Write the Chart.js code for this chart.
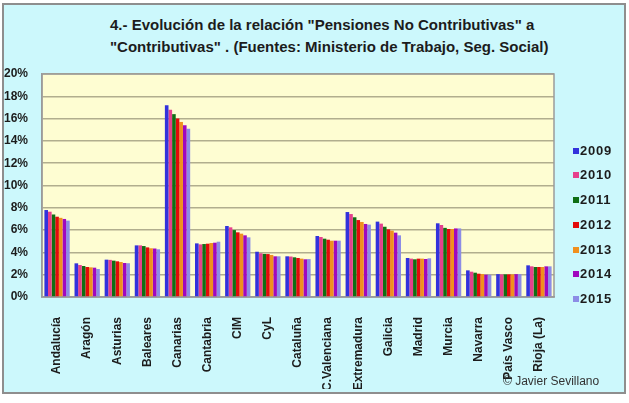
<!DOCTYPE html>
<html>
<head>
<meta charset="utf-8">
<script src="https://cdn.jsdelivr.net/npm/chart.js@4"></script>
<style>
  html, body { margin: 0; padding: 0; background: #ffffff; }
  .panel {
    position: absolute; left: 2px; top: 3px; width: 620px; height: 387px;
    background: #ccf8fc; border: 2px solid #8e8e8e;
  }
  #wrap { position: absolute; left: 0; top: 0; width: 629px; height: 403px; }
  .title {
    position: absolute; left: 110px; width: 400px; top: 14px; text-align: center; white-space: nowrap;
    font: bold 15px "Liberation Sans", Arial, sans-serif; line-height: 22px; color: #1c1c1c;
  }
  .legend { position: absolute; left: 573px; top: 0; font: bold 13px "Liberation Sans", Arial, sans-serif; color: #1c1c1c; }
  .legend div { position: absolute; left: 0; white-space: nowrap; height: 16px; line-height: 16px; letter-spacing: 0.8px; }
  .legend span { display: inline-block; width: 6px; height: 6px; margin-right: 1px; vertical-align: 1px; }
  .copy { position: absolute; left: 503px; top: 374px; font: 12px "Liberation Sans", Arial, sans-serif; color: #333; }
</style>
</head>
<body>
<div class="panel"></div>
<div class="title">4.- Evolución de la relación "Pensiones No Contributivas" a<br>"Contributivas" . (Fuentes: Ministerio de Trabajo, Seg. Social)</div>
<div id="wrap"><canvas id="pensChart" width="629" height="403"></canvas></div>
<div class="legend" id="legend"></div>
<div class="copy">© Javier Sevillano</div>
<script>
  const regions = ['Andalucía', 'Aragón', 'Asturias', 'Baleares', 'Canarias', 'Cantabria', 'CIM', 'CyL',
    'Cataluña', 'C.Valenciana', 'Extremadura', 'Galicia', 'Madrid', 'Murcia', 'Navarra', 'País Vasco', 'Rioja (La)'];
  const years = ['2009', '2010', '2011', '2012', '2013', '2014', '2015'];
  const yearColors = ['#3232dc', '#e6408c', '#0f6e14', '#e20a0a', '#f0901e', '#a008be', '#8c8ce6'];

  // % pensiones no contributivas / contributivas, per year
  const v2009 = [7.80, 3.02, 3.35, 4.63, 17.2, 4.81, 6.37, 4.06, 3.65, 5.47, 7.62, 6.76, 3.50, 6.61, 2.39, 2.05, 2.84];
  const v2010 = [7.65, 2.87, 3.33, 4.63, 16.8, 4.72, 6.25, 3.92, 3.63, 5.38, 7.44, 6.58, 3.44, 6.46, 2.27, 2.03, 2.75];
  const v2011 = [7.40, 2.78, 3.26, 4.57, 16.4, 4.75, 6.00, 3.86, 3.56, 5.23, 7.15, 6.30, 3.38, 6.20, 2.18, 2.03, 2.69];
  const v2012 = [7.20, 2.69, 3.20, 4.45, 16.0, 4.78, 5.80, 3.85, 3.50, 5.14, 6.90, 6.07, 3.44, 6.10, 2.09, 2.03, 2.69];
  const v2013 = [7.10, 2.66, 3.14, 4.37, 15.7, 4.84, 5.68, 3.77, 3.44, 5.05, 6.73, 5.95, 3.44, 6.10, 2.06, 2.03, 2.69];
  const v2014 = [7.00, 2.63, 3.05, 4.35, 15.4, 4.87, 5.53, 3.65, 3.38, 5.05, 6.55, 5.77, 3.41, 6.15, 2.00, 2.05, 2.75];
  const v2015 = [6.85, 2.51, 3.03, 4.28, 15.1, 4.96, 5.35, 3.65, 3.40, 5.05, 6.49, 5.53, 3.47, 6.15, 2.00, 2.05, 2.75];
  const series = [v2009, v2010, v2011, v2012, v2013, v2014, v2015];

  const yTicks = [0, 2, 4, 6, 8, 10, 12, 14, 16, 18, 20];

  const plotBg = {
    id: 'plotBg',
    beforeDraw(chart) {
      const a = chart.chartArea, ctx = chart.ctx;
      ctx.save();
      ctx.fillStyle = '#fefdd2';
      ctx.fillRect(a.left, a.top, a.right - a.left, a.bottom - a.top);
      ctx.restore();
    },
    beforeDatasetsDraw(chart) {
      const a = chart.chartArea, ctx = chart.ctx;
      ctx.save();
      ctx.strokeStyle = '#9a9a9a';
      ctx.lineWidth = 1.5;
      ctx.strokeRect(a.left, a.top, a.right - a.left, a.bottom - a.top);
      ctx.restore();
    }
  };

  const chart = new Chart(document.getElementById('pensChart'), {
    type: 'bar',
    data: {
      labels: regions,
      datasets: years.map((y, i) => ({
        label: y,
        data: series[i],
        backgroundColor: yearColors[i],
        borderWidth: 0,
        categoryPercentage: 0.84,
        barPercentage: 1.0
      }))
    },
    options: {
      responsive: false,
      animation: false,
      layout: { padding: { left: 4, right: 75, top: 74, bottom: 14 } },
      plugins: {
        legend: { display: false },
        tooltip: { enabled: false },
        title: { display: false }
      },
      scales: {
        x: {
          grid: { display: false },
          border: { color: '#9a9a9a', width: 1.5 },
          afterFit(scale) {
            scale.height = 92;
            scale.paddingLeft = 0;
            scale.paddingRight = 0;
          },
          ticks: {
            minRotation: 90, maxRotation: 90, autoSkip: false, padding: 12,
            color: '#1c1c1c',
            font: { family: '"Liberation Sans", Arial, sans-serif', size: 12, weight: 'bold' }
          }
        },
        y: {
          min: 0, max: 20,
          afterBuildTicks(scale) { scale.ticks = yTicks.map(v => ({ value: v })); },
          afterFit(scale) {
            scale.width = 38;
            scale.paddingTop = 0;
          },
          grid: { color: '#b1ae8e', lineWidth: 1.5, drawTicks: false },
          border: { color: '#9a9a9a', width: 1.5 },
          ticks: {
            padding: 14,
            color: '#1c1c1c',
            font: { family: '"Liberation Sans", Arial, sans-serif', size: 12, weight: 'bold' },
            callback: v => v + '%'
          }
        }
      }
    },
    plugins: [plotBg]
  });

  const legend = document.getElementById('legend');
  years.forEach((y, i) => {
    const item = document.createElement('div');
    item.style.top = (150.7 + 24.7 * i - 8) + 'px';
    item.innerHTML = '<span style="background:' + yearColors[i] + '"></span>' + y;
    legend.appendChild(item);
  });
</script>
</body>
</html>
